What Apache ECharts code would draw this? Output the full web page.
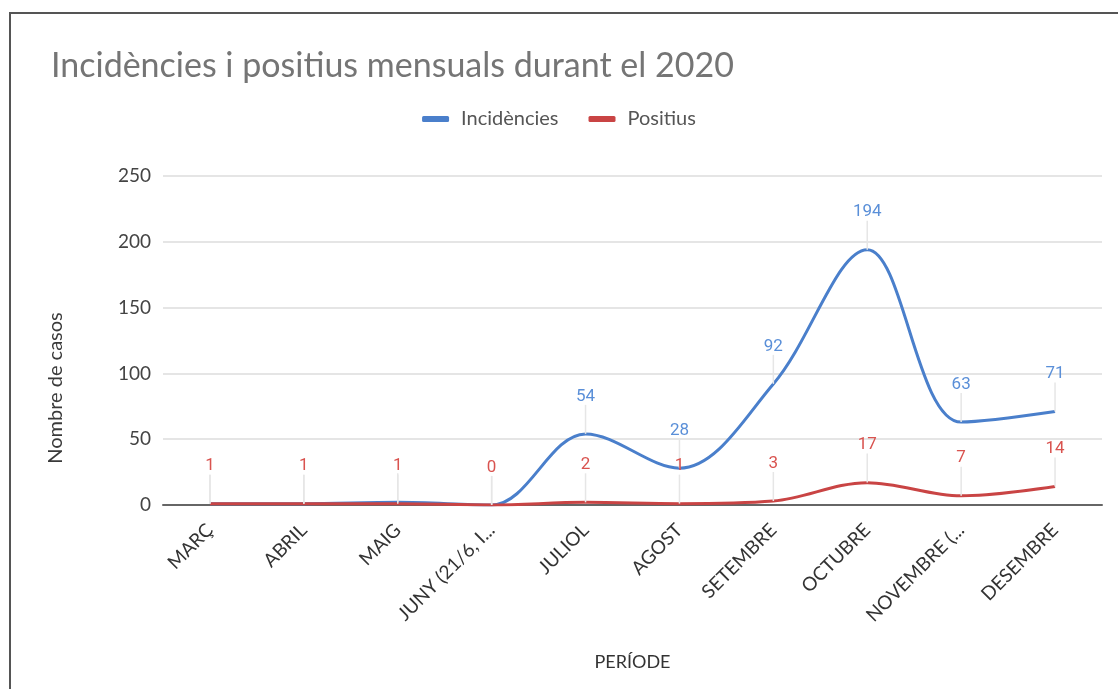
<!DOCTYPE html>
<html lang="ca" style="height: 100%">
<head>
    <meta charset="utf-8">
</head>
<body style="height: 100%; margin: 0">
<div id="container" style="height: 100%"></div>

<script type="text/javascript" src="https://fastly.jsdelivr.net/npm/echarts@6/dist/echarts.min.js"></script>

<script type="text/javascript">
    var dom = document.getElementById('container');
    var myChart = echarts.init(dom, null, {
        renderer: 'canvas',
        useDirtyRect: false
    });

    const periods = ['MARÇ', 'ABRIL', 'MAIG', 'JUNY (21/6, I...', 'JULIOL', 'AGOST',
        'SETEMBRE', 'OCTUBRE', 'NOVEMBRE (...', 'DESEMBRE'];
    const incidencies = [1, 1, 2, 0, 54, 28, 92, 194, 63, 71];
    const positius = [1, 1, 1, 0, 2, 1, 3, 17, 7, 14];
    const yTicks = [0, 50, 100, 150, 200, 250];
    // labels of the first points are hidden behind the red ones in the original
    const hiddenBlueLabels = 4;

    const font = 'Lato, "Open Sans", sans-serif';

    function lineSeries(name, data, lineColor, labelColor, skip) {
        return {
            type: 'line',
            name: name,
            data: data,
            smooth: 0.35,
            symbol: 'circle',
            symbolSize: 0.1,
            showSymbol: true,
            lineStyle: { color: lineColor, width: 3 },
            itemStyle: { color: lineColor },
            label: {
                show: true,
                position: 'top',
                distance: 4,
                color: labelColor,
                fontFamily: 'Roboto, sans-serif',
                fontSize: 17,
                formatter: function (p) {
                    return p.dataIndex < skip ? '' : p.value;
                }
            },
            labelLayout: { dy: -25 },
            labelLine: {
                show: true,
                lineStyle: { color: '#e6e6e6', width: 1.5 }
            }
        };
    }

    var option = {
        backgroundColor: '#fff',
        animation: false,
        title: {
            text: 'Incidències i positius mensuals durant el 2020',
            left: 46,
            top: 44,
            textStyle: {
                color: '#757575',
                fontFamily: font,
                fontWeight: 'normal',
                fontSize: 34
            }
        },
        legend: {
            top: 104,
            left: 'center',
            itemWidth: 27,
            itemHeight: 6,
            itemGap: 30,
            icon: 'roundRect',
            textStyle: { color: '#555', fontFamily: font, fontSize: 20, padding: [0, 0, 0, 7] },
            data: ['Incidències', 'Positius']
        },
        grid: {
            left: 163,
            right: 16,
            top: 176,
            bottom: 184
        },
        graphic: [
            {
                type: 'polyline',
                shape: { points: [[10, 689], [10, 13], [1118, 13]] },
                style: { stroke: '#555', lineWidth: 2, fill: null }
            },
            {
                type: 'text',
                x: 56,
                y: 388,
                rotation: Math.PI / 2,
                style: {
                    text: 'Nombre de casos',
                    fill: '#3a3a3a',
                    font: '20px ' + font,
                    align: 'center',
                    verticalAlign: 'middle'
                }
            }
        ],
        xAxis: {
            type: 'category',
            data: periods,
            boundaryGap: true,
            name: 'PERÍODE',
            nameLocation: 'middle',
            nameGap: 148,
            nameTextStyle: { color: '#333', fontFamily: font, fontSize: 18 },
            axisLine: { lineStyle: { color: '#666', width: 2 } },
            axisTick: { show: false },
            axisLabel: {
                rotate: 45,
                interval: 0,
                margin: 22,
                color: '#333',
                fontFamily: font,
                fontSize: 19
            }
        },
        yAxis: {
            type: 'value',
            min: yTicks[0],
            max: yTicks[yTicks.length - 1],
            interval: 50,
            axisLine: { show: false },
            axisTick: { show: false },
            axisLabel: {
                margin: 12,
                color: '#444',
                fontFamily: font,
                fontSize: 19
            },
            splitLine: { lineStyle: { color: '#dcdcdc', width: 1.5 } }
        },
        series: [
            lineSeries('Incidències', incidencies, '#4a7fcb', '#5a8fd8', hiddenBlueLabels),
            lineSeries('Positius', positius, '#c94444', '#d9534f', 0)
        ]
    };

    if (option && typeof option === 'object') {
        myChart.setOption(option);
    }

    window.addEventListener('resize', myChart.resize);
</script>
</body>
</html>
